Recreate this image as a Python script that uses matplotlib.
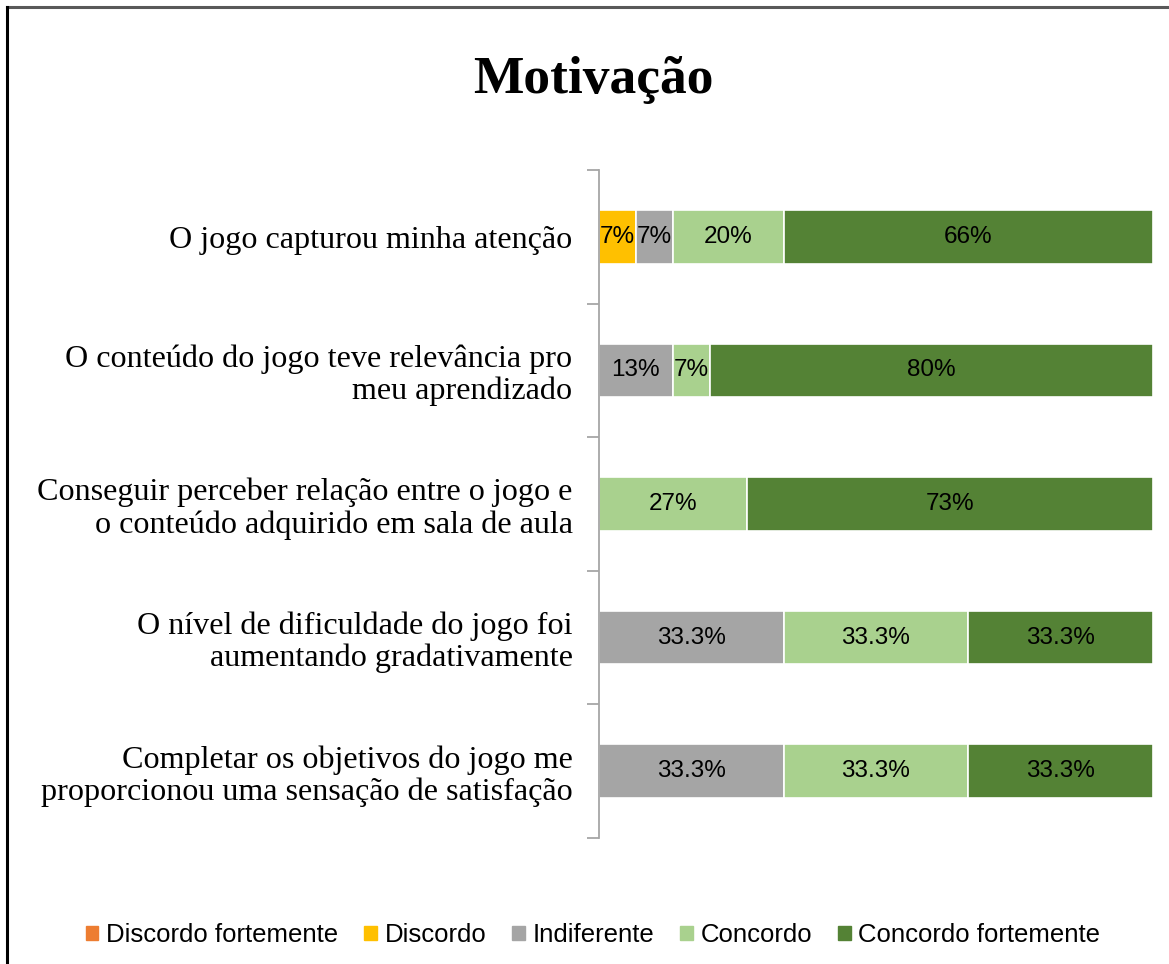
import numpy as np
import matplotlib.pyplot as plt
from matplotlib.patches import Rectangle

categories = [
    'O jogo capturou minha atenção',
    'O conteúdo do jogo teve relevância pro\nmeu aprendizado',
    'Conseguir perceber relação entre o jogo e\no conteúdo adquirido em sala de aula',
    'O nível de dificuldade do jogo foi\naumentando gradativamente',
    'Completar os objetivos do jogo me\nproporcionou uma sensação de satisfação',
]
series = ['Discordo fortemente', 'Discordo', 'Indiferente', 'Concordo', 'Concordo fortemente']
colors = ['#ED7D31', '#FFC000', '#A5A5A5', '#A9D18E', '#548235']

# percentages per series, one value per category (top to bottom)
discordo_fortemente = [0, 0, 0, 0, 0]
discordo = [6.67, 0, 0, 0, 0]
indiferente = [6.67, 13.33, 0, 33.33, 33.33]
concordo = [20.0, 6.67, 26.67, 33.33, 33.33]
concordo_fortemente = [66.67, 80.0, 73.33, 33.33, 33.33]

# labels as shown on the bars
lbl_discordo = ['7%', '', '', '', '']
lbl_indiferente = ['7%', '13%', '', '33.3%', '33.3%']
lbl_concordo = ['20%', '7%', '27%', '33.3%', '33.3%']
lbl_concordo_f = ['66%', '80%', '73%', '33.3%', '33.3%']

values = [discordo_fortemente, discordo, indiferente, concordo, concordo_fortemente]
labels = [['', '', '', '', ''], lbl_discordo, lbl_indiferente, lbl_concordo, lbl_concordo_f]

fig = plt.figure(figsize=(11.69, 9.64), dpi=100)
ax = fig.add_axes([599/1169, 1-838/964, (1153-599)/1169, (838-170)/964])

# outer frame like the office chart border
fig.add_artist(plt.Line2D([7/1169, 1.0], [1-7/964, 1-7/964], color='#595959', lw=2.2, transform=fig.transFigure))
fig.add_artist(plt.Line2D([7/1169, 7/1169], [0, 1-7/964], color='black', lw=2.2, transform=fig.transFigure))

y = np.arange(len(categories))
left = np.zeros(len(categories))
for vals, labs, col, name in zip(values, labels, colors, series):
    vals = np.array(vals)
    bars = ax.barh(y, vals, left=left, height=0.4, color=col, edgecolor='white', linewidth=1.2, label=name)
    for b, v, t in zip(bars, vals, labs):
        if v > 0 and t:
            ax.text(b.get_x() + b.get_width()/2, b.get_y() + b.get_height()/2, t,
                    ha='center', va='center', fontsize=17.5, family='Liberation Sans', color='black')
    left += vals

ax.set_xlim(0, 100)
ax.set_ylim(len(categories) - 0.5, -0.5)
ax.set_yticks(y)
ax.set_yticklabels(categories, family='Liberation Serif', fontsize=23.1, linespacing=1.12)
ax.set_yticks(np.arange(len(categories) + 1) - 0.5, minor=True)
ax.tick_params(axis='y', which='major', length=0, pad=19)
ax.tick_params(axis='y', which='minor', length=9, color='#A6A6A6', width=1.3)
ax.set_xticks([])
for s in ['top', 'right', 'bottom']:
    ax.spines[s].set_visible(False)
ax.spines['left'].set_color('#A6A6A6')
ax.spines['left'].set_linewidth(1.3)

fig.text(593/1169, 1-80/964, 'Motivação', ha='center', va='center',
         family='Liberation Serif', fontsize=38.5, fontweight='bold')

handles = [Rectangle((0, 0), 1, 1, color=c) for c in colors]
fig.legend(handles, series, loc='center', bbox_to_anchor=(593/1169, 1-935/964), ncol=5,
           frameon=False, prop={'family': 'Liberation Sans', 'size': 18.5},
           handlelength=0.5, handleheight=0.5, handletextpad=0.3, columnspacing=1.0)

fig.savefig('out.png', dpi=100, facecolor='white')
